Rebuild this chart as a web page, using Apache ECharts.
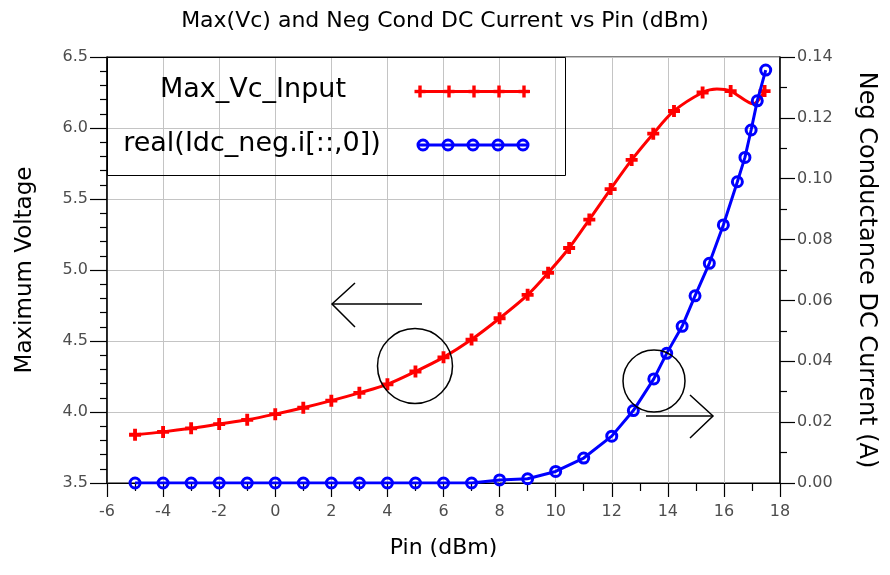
<!DOCTYPE html>
<html>
<head>
<meta charset="utf-8">
<script src="https://cdn.jsdelivr.net/npm/echarts@6/dist/echarts.min.js"></script>
<style>
  html, body { margin: 0; padding: 0; background: #fff; }
  #chart { width: 890px; height: 575px; }
</style>
</head>
<body>
<div id="chart"></div>
<script>
// Texts
const titleText = 'Max(Vc) and Neg Cond DC Current vs Pin (dBm)';
const seriesNames = ['Max_Vc_Input', 'real(Idc_neg.i[::,0])'];
const xName = 'Pin (dBm)';
const yLeftName = 'Maximum Voltage';
const yRightName = 'Neg Conductance DC Current (A)';

// Max_Vc_Input trace: input power (dBm) and maximum collector voltage (V)
const vcPin = [-5, -4, -3, -2, -1, 0, 1, 2, 3, 4, 5, 6, 7, 8, 9, 9.73, 10.48, 11.2, 11.96,
               12.71, 13.48, 14.22, 15.24, 15.75, 16.24, 17.05, 17.45];
const vcMax = [3.84, 3.86, 3.885, 3.915, 3.945, 3.985, 4.03, 4.08, 4.135, 4.195, 4.285, 4.385,
               4.51, 4.66, 4.825, 4.98, 5.155, 5.355, 5.57, 5.775, 5.96, 6.12, 6.25, 6.275,
               6.26, 6.17, 6.26];

// real(Idc_neg.i[::,0]) trace: input power (dBm) and DC current (A)
const idcPin = [-5, -4, -3, -2, -1, 0, 1, 2, 3, 4, 5, 6, 7, 8, 9, 10, 11, 12, 12.77, 13.5,
                13.96, 14.51, 14.97, 15.48, 15.98, 16.48, 16.75, 16.97, 17.19, 17.49];
const idcNeg = [0, 0, 0, 0, 0, 0, 0, 0, 0, 0, 0, 0, 0, 0.001, 0.0014, 0.0038, 0.0082, 0.0154,
                0.0238, 0.0342, 0.0426, 0.0515, 0.0615, 0.0722, 0.0848, 0.099, 0.107, 0.116,
                0.1256, 0.1357];

// Axis ranges
const xRange = [-6, 18, 2];
const vRange = [3.5, 6.5, 0.5];
const iRange = [0, 0.14, 0.02];

const RED = '#ff0000';
const BLUE = '#0000ff';
const FONT = '"DejaVu Sans", Arial, sans-serif';
const PLUS = 'path://M3.4,0H6.6V3.4H10V6.6H6.6V10H3.4V6.6H0V3.4H3.4Z';

// Points of the voltage trace drawn without a symbol (peak and dip of the curve)
const vcPlain = new Set([23, 25]);

const chart = echarts.init(document.getElementById('chart'), null, { renderer: 'canvas' });

const G = { left: 107, top: 57, width: 673, height: 426 };

const tickLabel = { color: '#4d4d4d', fontFamily: FONT, fontSize: 16 };
const nameStyle = { color: '#000', fontFamily: FONT };

// Legend box drawn as graphics
function legendGraphics() {
  const els = [];
  els.push({ type: 'rect', shape: { x: 107.5, y: 57.5, width: 458, height: 118 },
             style: { fill: 'none', stroke: '#000', lineWidth: 1 }, z: 10 });
  els.push({ type: 'text', x: 253, y: 90, z: 10,
             style: { text: seriesNames[0], fontSize: 27, fontFamily: FONT, fill: '#000',
                      textAlign: 'center', textVerticalAlign: 'middle' } });
  els.push({ type: 'text', x: 252, y: 144, z: 10,
             style: { text: seriesNames[1], fontSize: 27, fontFamily: FONT, fill: '#000',
                      textAlign: 'center', textVerticalAlign: 'middle' } });
  const ly1 = 91.5, ly2 = 145;
  els.push({ type: 'line', shape: { x1: 419, y1: ly1, x2: 530, y2: ly1 },
             style: { stroke: RED, lineWidth: 3 }, z: 10 });
  els.push({ type: 'line', shape: { x1: 419, y1: ly2, x2: 529, y2: ly2 },
             style: { stroke: BLUE, lineWidth: 3 }, z: 10 });
  [420, 449, 474, 499, 524].forEach(function (cx) {
    els.push({ type: 'rect', shape: { x: cx - 1.7, y: ly1 - 6, width: 3.4, height: 12 },
               style: { fill: RED }, z: 11 });
    els.push({ type: 'rect', shape: { x: cx - 5.5, y: ly1 - 1.7, width: 11, height: 3.4 },
               style: { fill: RED }, z: 11 });
  });
  [423, 448, 473, 498, 523].forEach(function (cx) {
    els.push({ type: 'circle', shape: { cx: cx, cy: ly2, r: 5 },
               style: { fill: 'none', stroke: BLUE, lineWidth: 3 }, z: 11 });
  });
  return els;
}

// Hand-drawn style callouts pointing each curve to its axis
function calloutGraphics() {
  const s = { stroke: '#000', lineWidth: 1.5, fill: 'none' };
  return [
    { type: 'circle', shape: { cx: 415, cy: 366, r: 37.5 }, style: s, z: 12 },
    { type: 'polyline', shape: { points: [[355, 283], [332, 304], [355, 327]] }, style: s, z: 12 },
    { type: 'line', shape: { x1: 332, y1: 304, x2: 422, y2: 304 }, style: s, z: 12 },
    { type: 'circle', shape: { cx: 654, cy: 381, r: 31 }, style: s, z: 12 },
    { type: 'polyline', shape: { points: [[690, 395], [713, 416], [690, 438]] }, style: s, z: 12 },
    { type: 'line', shape: { x1: 646, y1: 416, x2: 713, y2: 416 }, style: s, z: 12 }
  ];
}

const option = {
  animation: false,
  backgroundColor: '#fff',
  title: {
    text: titleText, left: 'center', top: 5,
    textStyle: { color: '#000', fontFamily: FONT, fontSize: 22, fontWeight: 'normal' }
  },
  grid: Object.assign({ show: true, borderColor: '#000', borderWidth: 1, backgroundColor: 'transparent' }, G),
  xAxis: {
    type: 'value', min: xRange[0], max: xRange[1], interval: xRange[2],
    name: xName, nameLocation: 'middle', nameGap: 54,
    nameTextStyle: Object.assign({ fontSize: 22 }, nameStyle),
    axisLine: { show: true, onZero: false, lineStyle: { color: '#000', width: 1 } },
    axisTick: { show: true, inside: false, length: 14, lineStyle: { color: '#000', width: 1.2 } },
    minorTick: { show: true, splitNumber: 2, length: 8, lineStyle: { color: '#000', width: 1.2 } },
    axisLabel: Object.assign({ margin: 21, formatter: function (v) { return String(v); } }, tickLabel),
    splitLine: { show: true, lineStyle: { color: '#c4c4c4', width: 1 } }
  },
  yAxis: [
    {
      type: 'value', position: 'left', min: vRange[0], max: vRange[1], interval: vRange[2],
      name: yLeftName, nameLocation: 'middle', nameGap: 70, nameRotate: 90,
      nameTextStyle: Object.assign({ fontSize: 23 }, nameStyle),
      axisLine: { show: true, onZero: false, lineStyle: { color: '#000', width: 1.5 } },
      axisTick: { show: true, inside: false, length: 17, lineStyle: { color: '#000', width: 1.2 } },
      minorTick: { show: true, splitNumber: 5, length: 7, lineStyle: { color: '#000', width: 1.2 } },
      axisLabel: Object.assign({ margin: 19, formatter: function (v) { return v.toFixed(1); } }, tickLabel),
      splitLine: { show: true, lineStyle: { color: '#c4c4c4', width: 1 } }
    },
    {
      type: 'value', position: 'right', min: iRange[0], max: iRange[1], interval: iRange[2],
      name: yRightName, nameLocation: 'middle', nameGap: 74, nameRotate: -90,
      nameTextStyle: Object.assign({ fontSize: 24 }, nameStyle),
      axisLine: { show: true, onZero: false, lineStyle: { color: '#000', width: 1.5 } },
      axisTick: { show: true, inside: false, length: 15, lineStyle: { color: '#000', width: 1.2 } },
      minorTick: { show: true, splitNumber: 2, length: 7, lineStyle: { color: '#000', width: 1.2 } },
      axisLabel: Object.assign({ margin: 17, formatter: function (v) { return v.toFixed(2); } }, tickLabel),
      splitLine: { show: false }
    }
  ],
  series: [
    {
      name: seriesNames[0], type: 'line', yAxisIndex: 0, smooth: 0.3, z: 3,
      data: vcPin.map(function (x, i) { return [x, vcMax[i]]; }),
      symbol: function (v, p) { return vcPlain.has(p.dataIndex) ? 'none' : PLUS; },
      symbolSize: 12,
      lineStyle: { color: RED, width: 3 },
      itemStyle: { color: RED, borderWidth: 0 }
    },
    {
      name: seriesNames[1], type: 'line', yAxisIndex: 1, smooth: false, z: 4,
      data: idcPin.map(function (x, i) { return [x, idcNeg[i]]; }),
      symbol: 'circle', symbolSize: 10,
      lineStyle: { color: BLUE, width: 3 },
      itemStyle: { color: 'rgba(0,0,0,0)', borderColor: BLUE, borderWidth: 3 }
    }
  ],
  graphic: legendGraphics().concat(calloutGraphics())
};

chart.setOption(option);
</script>
</body>
</html>
